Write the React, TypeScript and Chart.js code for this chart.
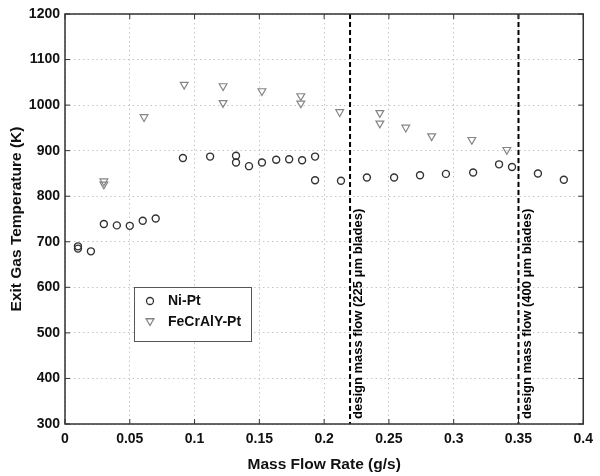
import React, { useEffect, useRef } from 'react';
import { Chart, registerables } from 'chart.js';

Chart.register(...registerables);

// ---- data ----
const seriesNames = ['Ni-Pt', 'FeCrAlY-Pt'];

const niPtFlow = [0.010, 0.010, 0.020, 0.030, 0.040, 0.050, 0.060, 0.070, 0.091, 0.112, 0.132, 0.132, 0.142, 0.152, 0.163, 0.173, 0.183, 0.193, 0.193, 0.213, 0.233, 0.254, 0.274, 0.294, 0.315, 0.335, 0.345, 0.365, 0.385];
const niPtTemp = [690, 685, 679, 739, 736, 735, 746, 751, 884, 887, 889, 874, 866, 874, 880, 881, 879, 887, 835, 834, 841, 841, 846, 849, 852, 870, 864, 850, 836];

const fecrFlow = [0.030, 0.030, 0.061, 0.092, 0.122, 0.122, 0.152, 0.182, 0.182, 0.212, 0.243, 0.243, 0.263, 0.283, 0.314, 0.341];
const fecrTemp = [833, 826, 974, 1045, 1042, 1005, 1031, 1020, 1004, 985, 983, 960, 951, 932, 924, 902];

const xTicks = [0, 0.05, 0.1, 0.15, 0.2, 0.25, 0.3, 0.35, 0.4];
const xTickLabels = ['0', '0.05', '0.1', '0.15', '0.2', '0.25', '0.3', '0.35', '0.4'];
const yTicks = [300, 400, 500, 600, 700, 800, 900, 1000, 1100, 1200];

const designFlows = [0.22, 0.35];
const designLabels = ['design mass flow (225 \u03bcm blades)', 'design mass flow (400 \u03bcm blades)'];

const xTitle = 'Mass Flow Rate (g/s)';
const yTitle = 'Exit Gas Temperature (K)';

const FONT = '"Liberation Sans", Arial, Helvetica, sans-serif';
const CIRCLE_COLOR = '#333333';
const TRI_COLOR = '#858585';

function drawTri(ctx: CanvasRenderingContext2D, x: number, y: number, r: number) {
  ctx.beginPath();
  ctx.moveTo(x, y + r);
  ctx.lineTo(x - 0.866 * r, y - 0.5 * r);
  ctx.lineTo(x + 0.866 * r, y - 0.5 * r);
  ctx.closePath();
  ctx.stroke();
}

const decorPlugin = {
  id: 'decor',
  beforeDatasetsDraw(chart: any) {
    const { ctx, chartArea: a, scales } = chart;
    const xs = scales.x;
    ctx.save();
    designFlows.forEach((f, i) => {
      const px = xs.getPixelForValue(f);
      ctx.strokeStyle = '#000';
      ctx.lineWidth = 2;
      ctx.setLineDash([5, 3]);
      ctx.beginPath();
      ctx.moveTo(px, a.top);
      ctx.lineTo(px, a.bottom);
      ctx.stroke();
      ctx.setLineDash([]);
      ctx.save();
      ctx.translate(px + 2, a.bottom - 5);
      ctx.rotate(-Math.PI / 2);
      ctx.textAlign = 'left';
      ctx.textBaseline = 'top';
      ctx.font = `bold 13px ${FONT}`;
      ctx.fillStyle = '#000';
      ctx.fillText(designLabels[i], 0, 0);
      ctx.restore();
    });
    ctx.restore();
  },
  afterDraw(chart: any) {
    const { ctx, chartArea: a, scales } = chart;
    const xs = scales.x, ys = scales.y;
    ctx.save();
    // frame
    ctx.strokeStyle = '#333';
    ctx.lineWidth = 1.5;
    ctx.setLineDash([]);
    ctx.strokeRect(a.left, a.top, a.right - a.left, a.bottom - a.top);
    // inward ticks
    ctx.lineWidth = 1;
    const tl = 5;
    ctx.beginPath();
    xTicks.forEach((v) => {
      const px = xs.getPixelForValue(v);
      ctx.moveTo(px, a.bottom); ctx.lineTo(px, a.bottom - tl);
      ctx.moveTo(px, a.top); ctx.lineTo(px, a.top + tl);
    });
    yTicks.forEach((v) => {
      const py = ys.getPixelForValue(v);
      ctx.moveTo(a.left, py); ctx.lineTo(a.left + tl, py);
      ctx.moveTo(a.right, py); ctx.lineTo(a.right - tl, py);
    });
    ctx.stroke();

    // legend
    const lx = a.left + 69, ly = a.top + 273, lw = 117, lh = 54;
    ctx.fillStyle = '#fff';
    ctx.fillRect(lx, ly, lw, lh);
    ctx.strokeStyle = '#555';
    ctx.lineWidth = 1;
    ctx.strokeRect(lx + 0.5, ly + 0.5, lw, lh);
    const rows = [ly + 14, ly + 35];
    ctx.lineWidth = 1.3;
    ctx.strokeStyle = CIRCLE_COLOR;
    ctx.beginPath();
    ctx.arc(lx + 16, rows[0], 3.5, 0, Math.PI * 2);
    ctx.stroke();
    ctx.strokeStyle = TRI_COLOR;
    drawTri(ctx, lx + 16, rows[1] - 1, 4.5);
    ctx.fillStyle = '#111';
    ctx.font = `bold 14px ${FONT}`;
    ctx.textAlign = 'left';
    ctx.textBaseline = 'middle';
    ctx.fillText(seriesNames[0], lx + 34, rows[0]);
    ctx.fillText(seriesNames[1], lx + 34, rows[1]);
    ctx.restore();
  },
};

export default function App() {
  const ref = useRef<HTMLCanvasElement | null>(null);
  useEffect(() => {
    if (!ref.current) return;
    const gridCommon = {
      color: '#c4c4c4',
      lineWidth: 1,
      drawTicks: false,
    };
    const chart = new Chart(ref.current, {
      type: 'scatter',
      data: {
        datasets: [
          {
            label: seriesNames[0],
            data: niPtFlow.map((x, i) => ({ x, y: niPtTemp[i] })),
            pointStyle: 'circle',
            pointRadius: 3.5,
            pointBorderWidth: 1.4,
            borderColor: CIRCLE_COLOR,
            backgroundColor: 'rgba(0,0,0,0)',
            showLine: false,
          },
          {
            label: seriesNames[1],
            data: fecrFlow.map((x, i) => ({ x, y: fecrTemp[i] })),
            pointStyle: 'triangle',
            pointRotation: 180,
            pointRadius: 4.5,
            pointBorderWidth: 1.2,
            borderColor: TRI_COLOR,
            backgroundColor: 'rgba(0,0,0,0)',
            showLine: false,
          },
        ],
      },
      options: {
        responsive: false,
        animation: false,
        events: [],
        layout: { padding: { left: 0, top: 14, right: 12, bottom: 0 } },
        plugins: {
          legend: { display: false },
          tooltip: { enabled: false },
        },
        scales: {
          x: {
            type: 'linear',
            min: 0,
            max: 0.4,
            afterBuildTicks: (s: any) => { s.ticks = xTicks.map((v) => ({ value: v })); },
            afterFit: (s: any) => { s.height = 52; },
            ticks: {
              padding: 7,
              color: '#111',
              font: { family: FONT, size: 14, weight: 'bold' },
              maxRotation: 0,
              autoSkip: false,
              callback: (v: any) => {
                const i = xTicks.findIndex((t) => Math.abs(t - Number(v)) < 1e-9);
                return i >= 0 ? xTickLabels[i] : '';
              },
            },
            grid: gridCommon,
            border: { display: false, dash: [1.5, 3] },
            title: {
              display: true,
              text: xTitle,
              color: '#111',
              font: { family: FONT, size: 15.5, weight: 'bold', lineHeight: 1.2 },
              padding: { top: 0, bottom: 2 },
            },
          },
          y: {
            type: 'linear',
            min: 300,
            max: 1200,
            afterBuildTicks: (s: any) => { s.ticks = yTicks.map((v) => ({ value: v })); },
            afterFit: (s: any) => { s.width = 65; },
            ticks: {
              padding: 5,
              color: '#111',
              font: { family: FONT, size: 14, weight: 'bold' },
              autoSkip: false,
              callback: (v: any) => String(v),
            },
            grid: gridCommon,
            border: { display: false, dash: [1.5, 3] },
            title: {
              display: true,
              text: yTitle,
              color: '#111',
              font: { family: FONT, size: 15.5, weight: 'bold', lineHeight: 1.2 },
              padding: { top: 7, bottom: 0 },
            },
          },
        },
      },
      plugins: [decorPlugin],
    } as any);
    return () => chart.destroy();
  }, []);

  return (
    <div style={{ position: 'absolute', left: 0, top: 0, width: 600, height: 476, background: '#fff' }}>
      <canvas ref={ref} width={600} height={476} style={{ display: 'block', width: 600, height: 476 }} />
    </div>
  );
}
